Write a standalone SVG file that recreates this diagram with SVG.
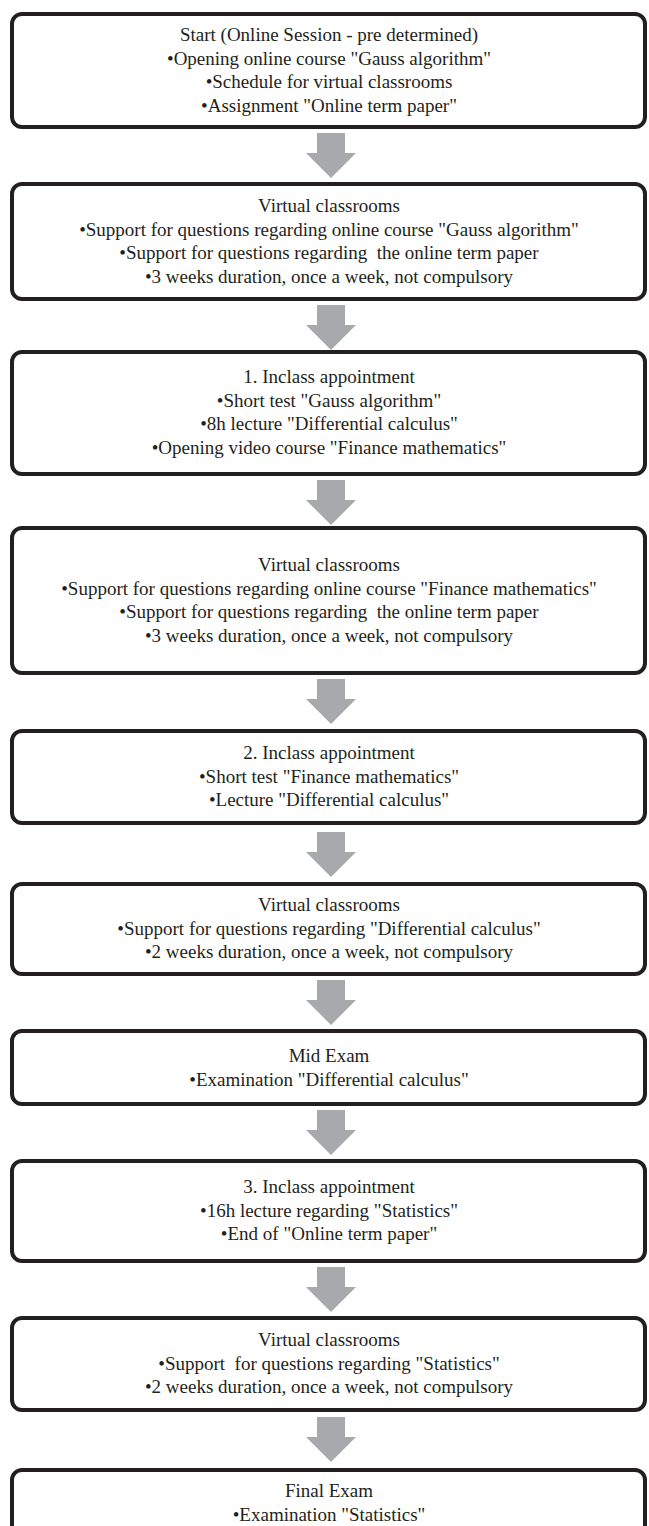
<svg xmlns="http://www.w3.org/2000/svg" width="649" height="1526" viewBox="0 0 649 1526">
<style>
.box{fill:#fff;stroke:#231f20;stroke-width:4}
.t{font-family:"Liberation Serif","Times New Roman",serif;font-size:19px;fill:#231f20;text-anchor:middle;white-space:pre}
.arr{fill:#a7a9ac}
</style>
<defs>
<path id="arrow" d="M-14,0 H14 V20 H25 L0,45 L-25,20 H-14 Z"/>
</defs>
<rect width="649" height="1526" fill="#fff"/>
<g id="connectors">
<use href="#arrow" class="arr" x="331" y="133"/>
<use href="#arrow" class="arr" x="331" y="305"/>
<use href="#arrow" class="arr" x="331" y="480"/>
<use href="#arrow" class="arr" x="331" y="679"/>
<use href="#arrow" class="arr" x="331" y="832"/>
<use href="#arrow" class="arr" x="331" y="980"/>
<use href="#arrow" class="arr" x="331" y="1110"/>
<use href="#arrow" class="arr" x="331" y="1267"/>
<use href="#arrow" class="arr" x="331" y="1417"/>
</g>
<g id="n1">
<rect class="box" x="12" y="14" width="633" height="113" rx="10"/>
<text class="t" x="329" y="41">Start (Online Session - pre determined)</text>
<text class="t" x="329" y="65">•Opening online course "Gauss algorithm"</text>
<text class="t" x="329" y="88">•Schedule for virtual classrooms</text>
<text class="t" x="329" y="112">•Assignment "Online term paper"</text>
</g>
<g id="n2">
<rect class="box" x="12" y="184" width="633" height="115" rx="10"/>
<text class="t" x="329" y="212">Virtual classrooms</text>
<text class="t" x="329" y="236">•Support for questions regarding online course "Gauss algorithm"</text>
<text class="t" x="329" y="259">•Support for questions regarding  the online term paper</text>
<text class="t" x="329" y="283">•3 weeks duration, once a week, not compulsory</text>
</g>
<g id="n3">
<rect class="box" x="12" y="352" width="633" height="122" rx="10"/>
<text class="t" x="329" y="383">1. Inclass appointment</text>
<text class="t" x="329" y="407">•Short test "Gauss algorithm"</text>
<text class="t" x="329" y="430">•8h lecture "Differential calculus"</text>
<text class="t" x="329" y="454">•Opening video course "Finance mathematics"</text>
</g>
<g id="n4">
<rect class="box" x="12" y="528" width="633" height="145" rx="10"/>
<text class="t" x="329" y="571">Virtual classrooms</text>
<text class="t" x="329" y="595">•Support for questions regarding online course "Finance mathematics"</text>
<text class="t" x="329" y="618">•Support for questions regarding  the online term paper</text>
<text class="t" x="329" y="642">•3 weeks duration, once a week, not compulsory</text>
</g>
<g id="n5">
<rect class="box" x="12" y="731" width="633" height="92" rx="10"/>
<text class="t" x="329" y="759">2. Inclass appointment</text>
<text class="t" x="329" y="783">•Short test "Finance mathematics"</text>
<text class="t" x="329" y="806">•Lecture "Differential calculus"</text>
</g>
<g id="n6">
<rect class="box" x="12" y="884" width="633" height="90" rx="10"/>
<text class="t" x="329" y="911">Virtual classrooms</text>
<text class="t" x="329" y="935">•Support for questions regarding "Differential calculus"</text>
<text class="t" x="329" y="958">•2 weeks duration, once a week, not compulsory</text>
</g>
<g id="n7">
<rect class="box" x="12" y="1031" width="633" height="73" rx="10"/>
<text class="t" x="329" y="1062">Mid Exam</text>
<text class="t" x="329" y="1086">•Examination "Differential calculus"</text>
</g>
<g id="n8">
<rect class="box" x="12" y="1161" width="633" height="100" rx="10"/>
<text class="t" x="329" y="1193">3. Inclass appointment</text>
<text class="t" x="329" y="1217">•16h lecture regarding "Statistics"</text>
<text class="t" x="329" y="1240">•End of "Online term paper"</text>
</g>
<g id="n9">
<rect class="box" x="12" y="1318" width="633" height="92" rx="10"/>
<text class="t" x="329" y="1346">Virtual classrooms</text>
<text class="t" x="329" y="1370">•Support  for questions regarding "Statistics"</text>
<text class="t" x="329" y="1393">•2 weeks duration, once a week, not compulsory</text>
</g>
<g id="n10">
<rect class="box" x="12" y="1470" width="633" height="90" rx="10"/>
<text class="t" x="329" y="1497">Final Exam</text>
<text class="t" x="329" y="1521">•Examination "Statistics"</text>
</g>
</svg>
